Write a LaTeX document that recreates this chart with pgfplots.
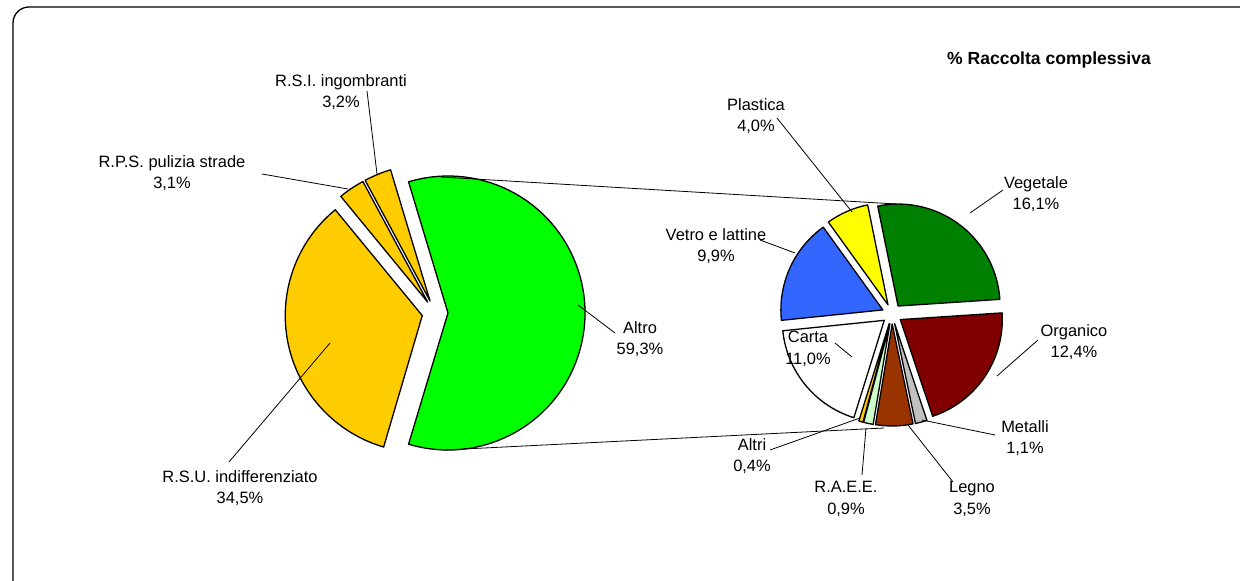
\documentclass[border=0pt]{standalone}
\usepackage{pgfplots}
\usepackage{pgfplotstable}
\pgfplotsset{compat=1.18}
\usepackage{fontspec}
\setmainfont{Liberation Sans}

\definecolor{cGold}{HTML}{FFCC00}
\definecolor{cLime}{HTML}{00FF00}
\definecolor{cVeg}{HTML}{008000}
\definecolor{cOrg}{HTML}{800000}
\definecolor{cMet}{HTML}{C0C0C0}
\definecolor{cLeg}{HTML}{993300}
\definecolor{cRae}{HTML}{CCFFCC}
\definecolor{cAlt}{HTML}{FFCC00}
\definecolor{cCar}{HTML}{FFFFFF}
\definecolor{cVet}{HTML}{3366FF}
\definecolor{cPla}{HTML}{FFFF00}

% first pie (counter-clockwise from the split slice)
\pgfplotstableread[col sep=comma]{
name,value,color
Altro,59.3,cLime
RSI,3.2,cGold
RPS,3.1,cGold
RSU,34.5,cGold
}\leftpie

% second pie (clockwise)
\pgfplotstableread[col sep=comma]{
name,value,color
Vegetale,16.1,cVeg
Organico,12.4,cOrg
Metalli,1.1,cMet
Legno,3.5,cLeg
RAEE,0.9,cRae
Altri,0.4,cAlt
Carta,11.0,cCar
Vetro,9.9,cVet
Plastica,4.0,cPla
}\rightpie

\pgfplotstablegetrowsof{\leftpie}\pgfmathtruncatemacro\nL{\pgfplotsretval-1}
\pgfplotstablegetrowsof{\rightpie}\pgfmathtruncatemacro\nR{\pgfplotsretval-1}

\begin{document}
\begin{tikzpicture}
\begin{axis}[
  x=1bp, y=1bp, xmin=0, xmax=1240, ymin=0, ymax=581,
  y dir=reverse, hide axis, clip=false,
]
% border
\draw[line width=1.3bp, rounded corners=16bp] (axis cs:13,7) rectangle (axis cs:1262,600);

% left pie
\xdef\cum{-106.74}
\foreach \i in {0,...,\nL}{
  \pgfplotstablegetelem{\i}{value}\of\leftpie \let\v\pgfplotsretval
  \pgfplotstablegetelem{\i}{color}\of\leftpie \let\c\pgfplotsretval
  \pgfmathsetmacro\a{\cum}
  \pgfmathsetmacro\b{\cum + \v*3.6}
  \pgfmathsetmacro\m{(\a+\b)/2}
  \edef\tmp{\noexpand\filldraw[fill=\c, draw=black, line width=1.3bp, line join=round]
     (axis cs:435,313) ++(\m:13bp) -- ++(\a:137bp) arc[start angle=\a, end angle=\b, radius=137bp] -- cycle;}
  \tmp
  \xdef\cum{\b}
}
% right pie
\xdef\cum{101.5}
\foreach \i in {0,...,\nR}{
  \pgfplotstablegetelem{\i}{value}\of\rightpie \let\v\pgfplotsretval
  \pgfplotstablegetelem{\i}{color}\of\rightpie \let\c\pgfplotsretval
  \pgfmathsetmacro\a{\cum}
  \pgfmathsetmacro\b{\cum - \v/59.3*360}
  \pgfmathsetmacro\m{(\a+\b)/2}
  \edef\tmp{\noexpand\filldraw[fill=\c, draw=black, line width=1.3bp, line join=round]
     (axis cs:892,314) ++(\m:10bp) -- ++(\a:102bp) arc[start angle=\a, end angle=\b, radius=102bp] -- cycle;}
  \tmp
  \xdef\cum{\b}
}

% connector lines
\draw[line width=0.8bp] (axis cs:441,177) -- (axis cs:896,204);
\draw[line width=0.8bp] (axis cs:444,450) -- (axis cs:884,428);

% leader lines
\begin{scope}[line width=0.8bp]
\draw (axis cs:367,91) -- (axis cs:377,174);
\draw (axis cs:262,174) -- (axis cs:348,189);
\draw (axis cs:229,462) -- (axis cs:330,343);
\draw (axis cs:578,305) -- (axis cs:615,333);
\draw (axis cs:777,118) -- (axis cs:852,212);
\draw (axis cs:1003,190) -- (axis cs:970,213);
\draw (axis cs:760,240) -- (axis cs:795,253);
\draw (axis cs:835,343) -- (axis cs:852,357);
\draw (axis cs:1038,340) -- (axis cs:997,376);
\draw (axis cs:995,435) -- (axis cs:922,420);
\draw (axis cs:953,482) -- (axis cs:908,425);
\draw (axis cs:862,475) -- (axis cs:866,428);
\draw (axis cs:770,450) -- (axis cs:860,418);
\end{scope}

% labels
\begin{scope}[every node/.style={align=center, inner sep=0pt, font=\fontsize{16.5}{21.5}\selectfont}]
\node at (axis cs:341,92) {R.S.I. ingombranti\\3,2\%};
\node at (axis cs:172,173) {R.P.S. pulizia strade\\3,1\%};
\node at (axis cs:240,488) {R.S.U. indifferenziato\\34,5\%};
\node at (axis cs:640,339) {Altro\\59,3\%};
\node at (axis cs:756,116) {Plastica\\4,0\%};
\node at (axis cs:1036,194) {Vegetale\\16,1\%};
\node at (axis cs:716,246) {Vetro e lattine\\9,9\%};
\node at (axis cs:808,349) {Carta\\11,0\%};
\node at (axis cs:1074,342) {Organico\\12,4\%};
\node at (axis cs:1025,438) {Metalli\\1,1\%};
\node at (axis cs:972,499) {Legno\\3,5\%};
\node at (axis cs:846,499) {R.A.E.E.\\0,9\%};
\node at (axis cs:752,456) {Altri\\0,4\%};
\node[font=\fontsize{17.6}{20}\selectfont\bfseries] at (axis cs:1049,60) {\% Raccolta complessiva};
\end{scope}
\end{axis}
\pgfresetboundingbox
\useasboundingbox (current axis.south west) rectangle (current axis.north east);
\end{tikzpicture}
\end{document}
